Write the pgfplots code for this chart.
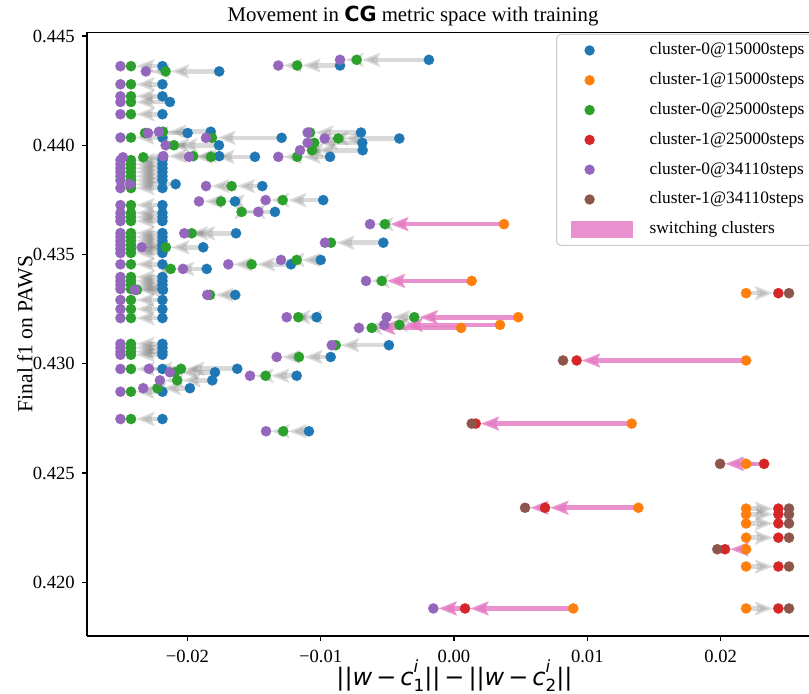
\documentclass[border=0pt]{standalone}
\usepackage{fontspec}
\setmainfont{Liberation Serif}
\newfontfamily\djv{DejaVu Sans}
\usepackage{pgfplots}
\usepackage{pgfplotstable}
\pgfplotsset{compat=1.18}
\usetikzlibrary{arrows.meta}

\definecolor{cB}{HTML}{1F77B4}
\definecolor{cO}{HTML}{FF7F0E}
\definecolor{cG}{HTML}{2CA02C}
\definecolor{cR}{HTML}{D62728}
\definecolor{cP}{HTML}{9467BD}
\definecolor{cBr}{HTML}{8C564B}
\definecolor{cPink}{HTML}{E377C2}

\newcommand{\ci}[1]{\textit{c}\rlap{\raisebox{0.52em}{\fontsize{8.4}{9}\selectfont\itshape i}}\raisebox{-0.28em}{\fontsize{8.4}{9}\selectfont #1}}

% cluster-0 rows: second arrow hidden (short)
\pgfplotstableread{
y b g p
0.44362 -0.02187 -0.02423 -0.02502
0.44279 -0.02187 -0.02423 -0.02502
0.44224 -0.02187 -0.02423 -0.02502
0.44142 -0.02187 -0.02423 -0.02502
0.44035 -0.02187 -0.02423 -0.02502
0.43932 -0.02187 -0.02423 -0.02502
0.43913 -0.02187 -0.02423 -0.02502
0.43895 -0.02187 -0.02423 -0.02502
0.43877 -0.02187 -0.02423 -0.02502
0.43858 -0.02187 -0.02423 -0.02502
0.43840 -0.02187 -0.02423 -0.02502
0.43804 -0.02187 -0.02423 -0.02502
0.43726 -0.02187 -0.02423 -0.02502
0.43690 -0.02187 -0.02423 -0.02502
0.43671 -0.02187 -0.02423 -0.02502
0.43653 -0.02187 -0.02423 -0.02502
0.43598 -0.02187 -0.02423 -0.02502
0.43580 -0.02187 -0.02423 -0.02502
0.43562 -0.02187 -0.02423 -0.02502
0.43543 -0.02187 -0.02423 -0.02502
0.43525 -0.02187 -0.02423 -0.02502
0.43507 -0.02187 -0.02423 -0.02502
0.43455 -0.02187 -0.02423 -0.02502
0.43397 -0.02187 -0.02423 -0.02502
0.43379 -0.02187 -0.02423 -0.02502
0.43361 -0.02187 -0.02423 -0.02502
0.43342 -0.02187 -0.02423 -0.02502
0.43292 -0.02187 -0.02423 -0.02502
0.43250 -0.02187 -0.02423 -0.02502
0.43209 -0.02187 -0.02423 -0.02502
0.43091 -0.02187 -0.02423 -0.02502
0.43073 -0.02187 -0.02423 -0.02502
0.43055 -0.02187 -0.02423 -0.02502
0.43041 -0.02187 -0.02423 -0.02502
0.42976 -0.02187 -0.02423 -0.02502
0.42872 -0.02187 -0.02423 -0.02502
0.42747 -0.02187 -0.02423 -0.02502
0.44198 -0.02131 -0.02423 -0.02502
0.43945 -0.02183 -0.02331 -0.02483
0.43822 -0.02088 -0.02423 -0.02431
0.43338 -0.02183 -0.02378 -0.02393
0.44056 -0.01998 -0.02318 -0.02296
0.44062 -0.01825 -0.02183 -0.02213
0.44058 -0.00698 -0.01080 -0.01098
0.44011 -0.00688 -0.01048 -0.01098
0.43315 -0.01641 -0.01830 -0.01851
0.43085 -0.00488 -0.00887 -0.00917
0.44034 -0.01293 -0.01815 -0.01860
0.42961 -0.01793 -0.02093 -0.02131
0.43554 -0.00530 -0.00923 -0.00968
}\zs

% cluster-0 rows: both arrows drawn
\pgfplotstableread{
y b g p
0.44338 -0.01761 -0.02163 -0.02311
0.44031 -0.00410 -0.00868 -0.00970
0.43977 -0.00685 -0.01065 -0.01155
0.43947 -0.00930 -0.01176 -0.01318
0.43947 -0.01493 -0.01823 -0.01988
0.43950 -0.01761 -0.01956 -0.02181
0.44000 -0.01763 -0.02101 -0.02163
0.43813 -0.01438 -0.01668 -0.01860
0.43743 -0.01643 -0.01748 -0.01913
0.43695 -0.01343 -0.01593 -0.01468
0.43749 -0.00981 -0.01285 -0.01413
0.44391 -0.00188 -0.00730 -0.00855
0.44365 -0.00855 -0.01176 -0.01318
0.43597 -0.01635 -0.01968 -0.02023
0.43533 -0.01881 -0.02161 -0.02343
0.43434 -0.01855 -0.02125 -0.02033
0.43455 -0.01223 -0.01518 -0.01693
0.43475 -0.01000 -0.01180 -0.01298
0.43213 -0.01030 -0.01168 -0.01255
0.43031 -0.00925 -0.01163 -0.01330
0.42977 -0.01626 -0.02048 -0.02288
0.42924 -0.01813 -0.02076 -0.02206
0.42945 -0.01180 -0.01413 -0.01530
0.42888 -0.01981 -0.02224 -0.02331
0.42691 -0.01088 -0.01281 -0.01410
}\zl

% cluster-1 rows
\pgfplotstableread{
y o r br
0.43323 0.02191 0.02433 0.02513
0.42337 0.02191 0.02433 0.02513
0.42311 0.02191 0.02433 0.02513
0.42269 0.02191 0.02433 0.02513
0.42204 0.02191 0.02433 0.02513
0.42072 0.02191 0.02433 0.02513
0.41880 0.02191 0.02433 0.02513
}\on

% switching: orange -> green (pink), green -> purple (gray)
\pgfplotstableread{
y o g p
0.43639 0.00375 -0.00518 -0.00630
0.43379 0.00133 -0.00542 -0.00660
0.43213 0.00482 -0.00298 -0.00505
0.43178 0.00345 -0.00410 -0.00523
0.43164 0.00053 -0.00617 -0.00713
}\swA

% switching: orange -> red (pink), red -> brown short
\pgfplotstableread{
y o r br
0.43015 0.02191 0.00920 0.00818
0.42726 0.01333 0.00163 0.00133
0.42151 0.02191 0.02033 0.01975
}\swB

% switching: both arrows pink
\pgfplotstableread{
y o r br
0.42341 0.01383 0.00683 0.00533
}\swC

% orange -> red (gray), red -> brown (pink)
\pgfplotstableread{
y o r br
0.42542 0.02191 0.02326 0.01996
}\swD

% orange -> red -> purple (pink)
\pgfplotstableread{
y o r p
0.41880 0.00895 0.00083 -0.00155
}\swE

\pgfplotsset{
  garrow/.style={forget plot, color=gray, opacity=0.3, line width=2.3pt,
    -{Stealth[length=9pt,width=6.8pt,inset=1.5pt]}, shorten >=2.6pt},
  parrow/.style={forget plot, color=cPink, opacity=0.8, line width=2.3pt,
    -{Stealth[length=9pt,width=6.8pt,inset=1.5pt]}, shorten >=2.6pt},
  dot/.style={forget plot, only marks, mark=*, mark size=2.6pt, color=#1,
    mark options={draw=#1, fill=#1, line width=0.05pt}},
  ldot/.style={only marks, mark=*, mark size=2.6pt, color=#1,
    mark options={draw=#1, fill=#1, line width=0.05pt},
    legend image code/.code={\fill[#1, draw=none, fill opacity=1] (9.5pt,0pt) circle[radius=2.6pt];}},
}

\begin{document}
\begin{tikzpicture}
\begin{axis}[
  scale only axis, width=361pt, height=301.85pt,
  xmin=-0.02753, xmax=0.02663, ymin=0.41754, ymax=0.44517,
  axis y line=left,
  axis line style={-, black, line width=0.55pt},
  tick align=outside, major tick length=2.43pt,
  tick style={black, line width=0.55pt},
  xtick pos=left, ytick pos=left,
  scaled ticks=false,
  xtick={-0.02,-0.01,0,0.01,0.02},
  xticklabels={−0.02,−0.01,0.00,0.01,0.02},
  ytick={0.42,0.425,0.43,0.435,0.44,0.445},
  yticklabels={0.420,0.425,0.430,0.435,0.440,0.445},
  ticklabel style={font=\fontsize{9.3}{11}\selectfont, inner sep=0pt},
  xticklabel style={anchor=north},
  xticklabel shift=4.3pt,
  yticklabel style={anchor=east, xshift=-3.5pt},
  every axis title shift=0pt,
  title={Movement in {\djv\bfseries CG} metric space with training},
  title style={at={(0.4515,1)}, anchor=base, yshift=5.15pt, inner sep=0pt,
    font=\fontsize{10.4}{12}\selectfont},
  xlabel={{\djv\fontsize{12}{14}\selectfont ||\textit{w}\,−\,\ci{1}||\,−\,||\textit{w}\,−\,\ci{2}||}},
  xlabel style={at={(0.509,-0.0660)}, anchor=center, inner sep=0pt},
  ylabel={Final f1 on PAWS},
  ylabel style={at={(-0.0859,0.5)}, anchor=center, inner sep=0pt,
    font=\fontsize{10.8}{12}\selectfont},
  legend cell align=left,
  legend style={at={(1.0138,0.9972)}, anchor=north east,
    draw=black!20, line width=0.5pt, rounded corners=2pt,
    fill=white, fill opacity=0.8, text opacity=1,
    font=\fontsize{8.7}{10}\selectfont,
    inner xsep=7pt, inner ysep=4pt, row sep=6.9pt, column sep=8.5pt,
    nodes={inner sep=0pt, text height=6.2pt, text depth=1.8pt}},
]
% gray arrows
\addplot[garrow, quiver={u={\thisrow{g}-\thisrow{b}}, v=0}] table[x=b,y=y]{\zs};
\addplot[garrow, quiver={u={\thisrow{g}-\thisrow{b}}, v=0}] table[x=b,y=y]{\zl};
\addplot[garrow, quiver={u={\thisrow{p}-\thisrow{g}}, v=0}] table[x=g,y=y]{\zl};
\addplot[garrow, quiver={u={\thisrow{r}-\thisrow{o}}, v=0}] table[x=o,y=y]{\on};
\addplot[garrow, quiver={u={\thisrow{p}-\thisrow{g}}, v=0}] table[x=g,y=y]{\swA};
\addplot[garrow, quiver={u={\thisrow{r}-\thisrow{o}}, v=0}] table[x=o,y=y]{\swD};
% pink arrows
\addplot[parrow, quiver={u={\thisrow{g}-\thisrow{o}}, v=0}] table[x=o,y=y]{\swA};
\addplot[parrow, quiver={u={\thisrow{r}-\thisrow{o}}, v=0}] table[x=o,y=y]{\swB};
\addplot[parrow, quiver={u={\thisrow{r}-\thisrow{o}}, v=0}] table[x=o,y=y]{\swC};
\addplot[parrow, quiver={u={\thisrow{br}-\thisrow{r}}, v=0}] table[x=r,y=y]{\swC};
\addplot[parrow, quiver={u={\thisrow{br}-\thisrow{r}}, v=0}] table[x=r,y=y]{\swD};
\addplot[parrow, quiver={u={\thisrow{r}-\thisrow{o}}, v=0}] table[x=o,y=y]{\swE};
\addplot[parrow, quiver={u={\thisrow{p}-\thisrow{r}}, v=0}] table[x=r,y=y]{\swE};

% points at 15000 steps
\addplot[ldot=cB] table[x=b,y=y]{\zs};
\addlegendentry{cluster-0@15000steps}
\addplot[dot=cB] table[x=b,y=y]{\zl};
\addplot[ldot=cO] table[x=o,y=y]{\on};
\addlegendentry{cluster-1@15000steps}
\addplot[dot=cO] table[x=o,y=y]{\swA};
\addplot[dot=cO] table[x=o,y=y]{\swB};
\addplot[dot=cO] table[x=o,y=y]{\swC};
\addplot[dot=cO] table[x=o,y=y]{\swD};
\addplot[dot=cO] table[x=o,y=y]{\swE};
% points at 25000 steps
\addplot[ldot=cG] table[x=g,y=y]{\zs};
\addlegendentry{cluster-0@25000steps}
\addplot[dot=cG] table[x=g,y=y]{\zl};
\addplot[dot=cG] table[x=g,y=y]{\swA};
\addplot[ldot=cR] table[x=r,y=y]{\on};
\addlegendentry{cluster-1@25000steps}
\addplot[dot=cR] table[x=r,y=y]{\swB};
\addplot[dot=cR] table[x=r,y=y]{\swC};
\addplot[dot=cR] table[x=r,y=y]{\swD};
\addplot[dot=cR] table[x=r,y=y]{\swE};
% points at 34110 steps
\addplot[ldot=cP] table[x=p,y=y]{\zs};
\addlegendentry{cluster-0@34110steps}
\addplot[dot=cP] table[x=p,y=y]{\zl};
\addplot[dot=cP] table[x=p,y=y]{\swA};
\addplot[dot=cP] table[x=p,y=y]{\swE};
\addplot[ldot=cBr] table[x=br,y=y]{\on};
\addlegendentry{cluster-1@34110steps}
\addplot[dot=cBr] table[x=br,y=y]{\swB};
\addplot[dot=cBr] table[x=br,y=y]{\swC};
\addplot[dot=cBr] table[x=br,y=y]{\swD};
\addlegendimage{legend image code/.code={\path[use as bounding box, draw=none, fill=none] (0pt,0pt) rectangle (31pt,2pt); \fill[cPink, fill opacity=0.8, draw=none, sharp corners] (0pt,-4.25pt) rectangle (31pt,4.25pt);}}
\addlegendentry{switching clusters}
\end{axis}
\pgfresetboundingbox
\path ([xshift=-43.5pt,yshift=-29pt]current axis.south west) rectangle ([yshift=16.15pt]current axis.north east);
\end{tikzpicture}
\end{document}
